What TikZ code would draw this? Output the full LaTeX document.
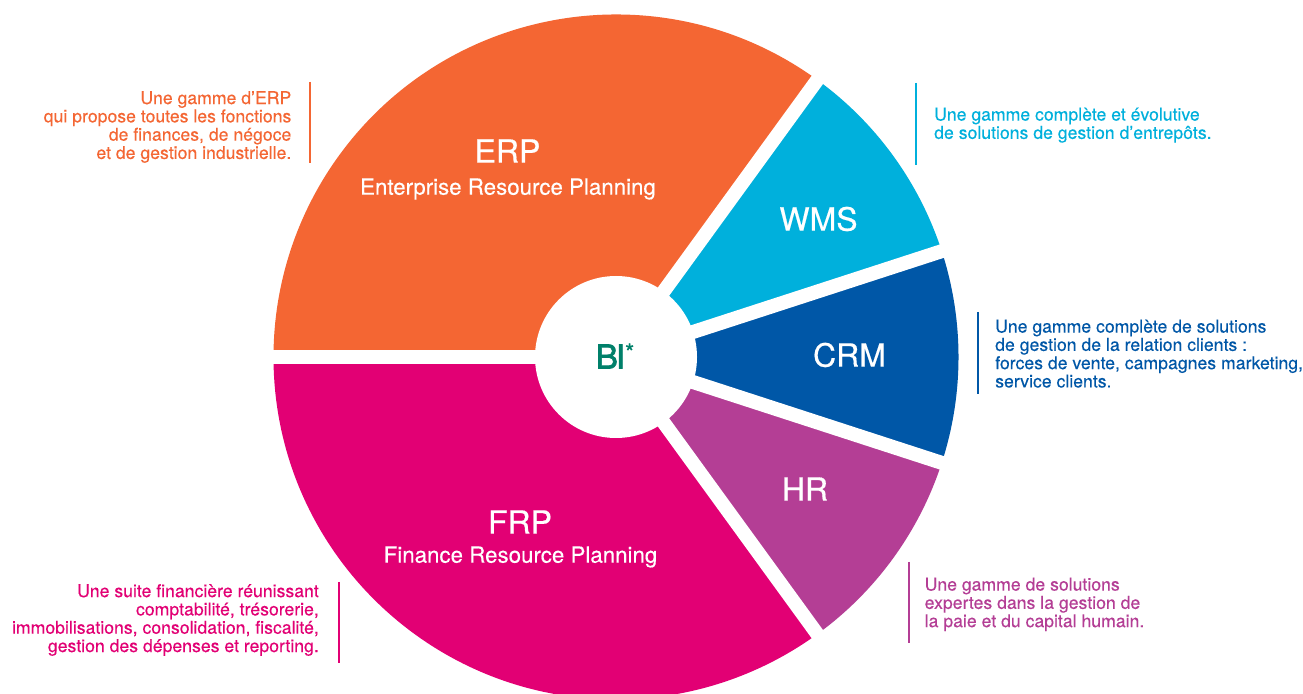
\documentclass[tikz,border=0pt]{standalone}
\usepackage{fontspec}
\setmainfont{TeX Gyre Heros}
\newfontfamily\medfont[FakeBold=0.5]{TeX Gyre Heros}
\newfontfamily\semifont[FakeBold=0.25]{TeX Gyre Heros}
\newfontfamily\bifont[FakeBold=2]{TeX Gyre Heros}
\definecolor{erporange}{HTML}{F46633}
\definecolor{wmsblue}{HTML}{00B0DC}
\definecolor{crmblue}{HTML}{0057A7}
\definecolor{hrpurple}{HTML}{B43E95}
\definecolor{frppink}{HTML}{E20074}
\definecolor{bigreen}{HTML}{00806A}
\tikzstyle{title}=[text=white,font=\medfont\fontsize{32}{36}\selectfont,inner sep=0pt]
\tikzstyle{subtitle}=[text=white,font=\semifont\fontsize{22.3}{26}\selectfont,inner sep=0pt]
\tikzstyle{blurb}=[font=\semifont\fontsize{17.65}{18.3}\selectfont,inner sep=0pt]
\tikzstyle{gap} = [draw=white,line width=14pt]
\tikzstyle{bar} = [draw,line width=2pt]

\begin{document}
\begin{tikzpicture}[x=1pt,y=1pt]
    \clip (0,0) rectangle (1303,693);
    \fill[white] (0,0) rectangle (1303,693);
    \coordinate (hub) at (616,336);
    % The ring segments
    \foreach \from/\to/\col in {54/180/erporange, 18/54/wmsblue, -18/18/crmblue, -54/-18/hrpurple, -180/-54/frppink}
        \fill[\col] (hub) -- ++(\from:342.5pt) arc (\from:\to:342.5pt) -- cycle;
    % White gaps between segments
    \foreach \ang in {54,18,-18,-54,180}
        \path[gap] (hub) -- ++(\ang:360pt);
    \node[circle,fill=white,minimum size=162pt,inner sep=0pt] (hole) at (hub) {};
    % Segment labels
    \node[title,text=bigreen,font=\bifont\fontsize{33}{36}\selectfont] (BI) at (610.5,336.5) {B\kern-2ptI};
    \node[text=bigreen,inner sep=0pt,font=\medfont\fontsize{24}{26}\selectfont,anchor=north west] (star) at ([xshift=-0.5pt,yshift=1pt]BI.north east) {*};
    \foreach \pos/\name/\txt in {{(507.5,542)/ERP/ERP}, {(818.5,474)/WMS/WMS}, {(849.5,338)/CRM/CRM}, {(805,204)/HR/HR}, {(520,171)/FRP/FRP}}
        \node[title] (\name) at \pos {\txt};
    \node[subtitle] (ERPsub) at (508,504) {Enterprise Resource Planning};
    \node[subtitle] (FRPsub) at (520.5,136) {Finance Resource Planning};
    % Side texts
    \node[blurb,text=erporange,align=right,anchor=north east] (ERPtxt) at (291.5,602)
        {Une gamme d’ERP\\qui propose toutes les fonctions\\de finances, de négoce\hspace{4pt}\\et de gestion industrielle.};
    \node[blurb,text=frppink,align=right,anchor=north east] (FRPtxt) at (319,109)
        {Une suite financière réunissant\\comptabilité, trésorerie,\\immobilisations, consolidation, fiscalité,\\gestion des dépenses et reporting.};
    \node[blurb,text=wmsblue,align=left,anchor=north west] (WMStxt) at (934,585.5)
        {Une gamme complète et évolutive\\de solutions de gestion d’entrepôts.};
    \node[blurb,text=crmblue,align=left,anchor=north west] (CRMtxt) at (995,373.5)
        {Une gamme complète de solutions\\de gestion de la relation clients :\\forces de vente, campagnes marketing,\\service clients.};
    \node[blurb,text=hrpurple,align=left,anchor=north west] (HRtxt) at (924.5,115.5)
        {Une gamme de solutions\\expertes dans la gestion de\\la paie et du capital humain.};
    % Thin rules next to the texts
    \foreach \x/\ytop/\ybot/\col in {309.5/611/530/erporange, 338.5/111/30/frppink, 915.5/610/528/wmsblue, 978/381/299/crmblue, 909/131/50/hrpurple}
        \path[bar,\col] (\x,\ytop) -- (\x,\ybot);
\end{tikzpicture}
\end{document}
